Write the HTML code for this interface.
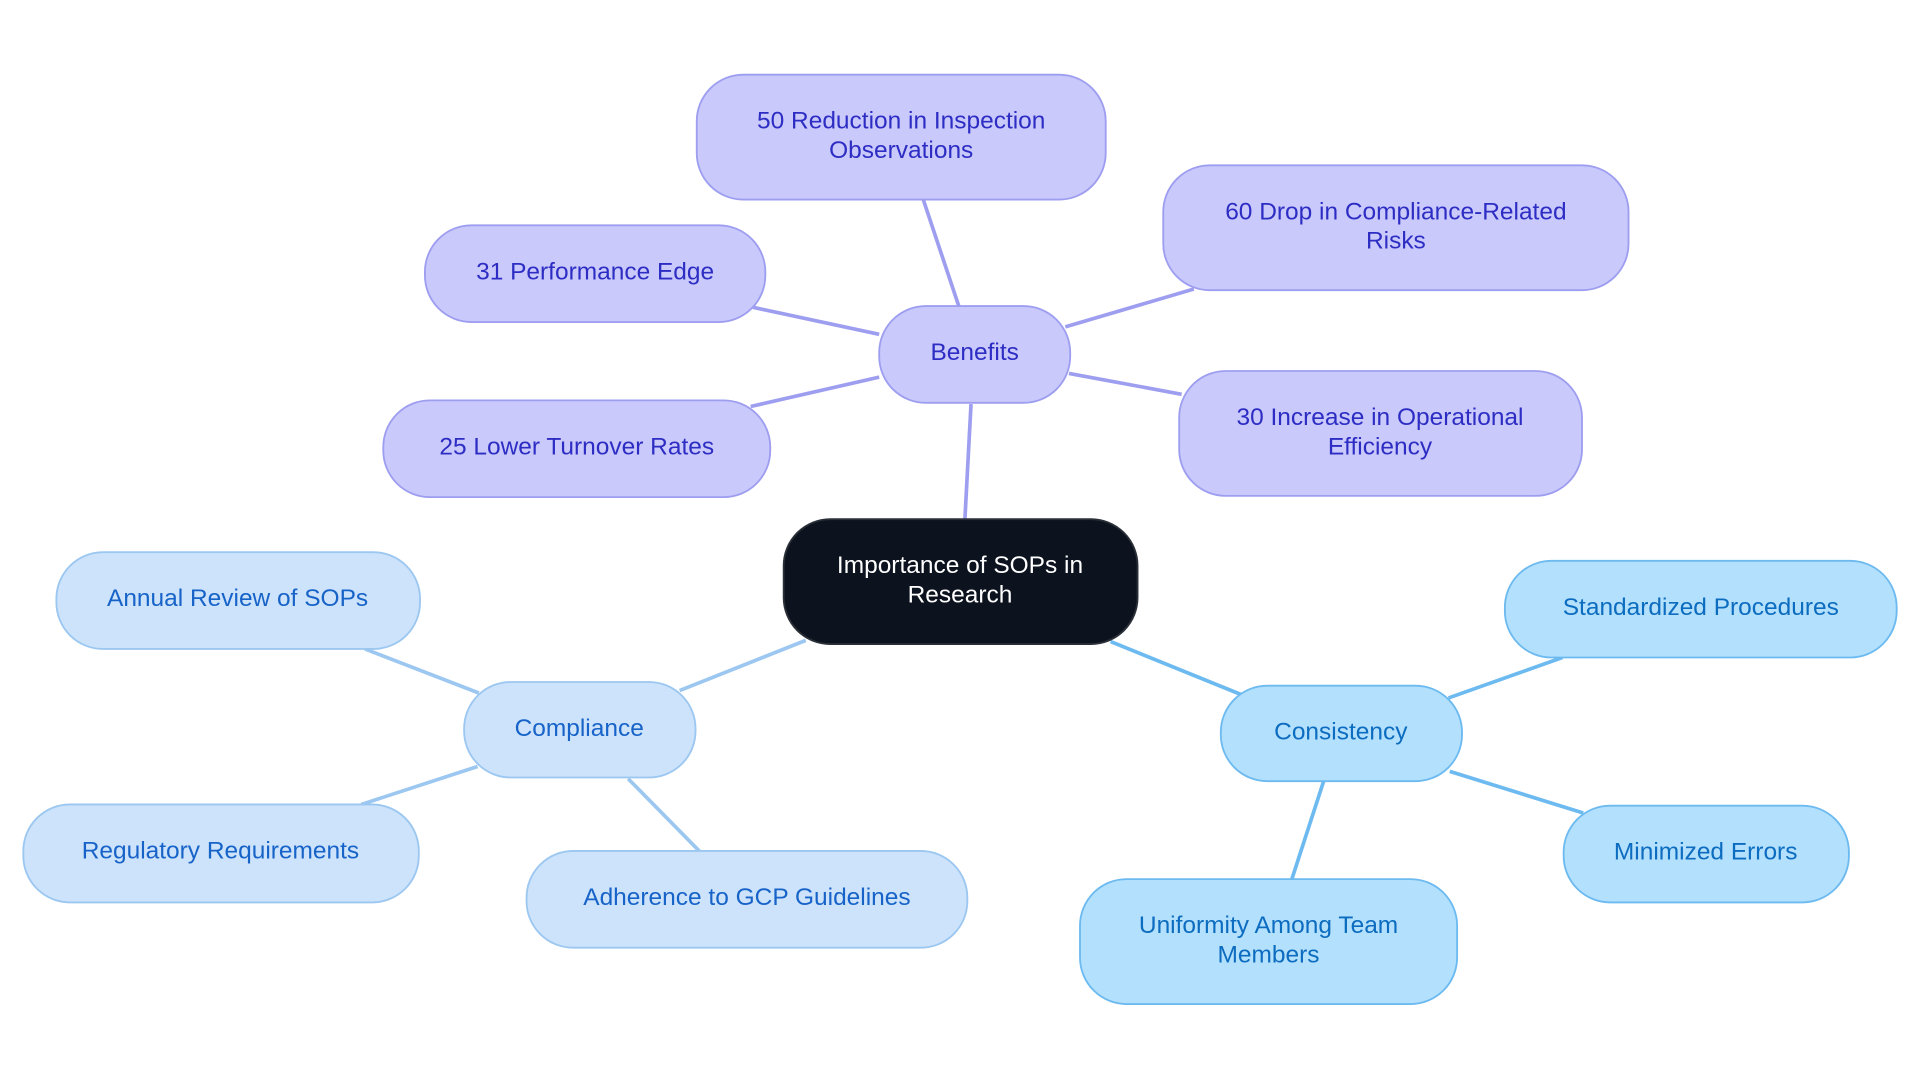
<!DOCTYPE html>
<html><head><meta charset="utf-8"><style>html,body{margin:0;padding:0;background:#fff;width:1920px;height:1083px;overflow:hidden}svg{display:block}text{font-family:"Liberation Sans",sans-serif;font-size:20px;text-anchor:middle;dominant-baseline:central}</style></head><body>
<svg width="1920" height="1083" viewBox="0 0 1568 884.5" xmlns="http://www.w3.org/2000/svg">
<g stroke-width="3" fill="none">
<g stroke="#9e9ef0">
<line x1="793" y1="330" x2="788" y2="424"/>
<line x1="783" y1="250" x2="754" y2="163"/>
<line x1="870" y1="267" x2="975" y2="236"/>
<line x1="718" y1="273" x2="615" y2="251"/>
<line x1="718" y1="308" x2="613" y2="332"/>
<line x1="873" y1="305" x2="965" y2="322"/>
</g>
<g stroke="#9cc7f0">
<line x1="658" y1="523" x2="555" y2="564"/>
<line x1="391" y1="566" x2="298" y2="530"/>
<line x1="390" y1="626" x2="295" y2="657"/>
<line x1="513" y1="636" x2="571" y2="695"/>
</g>
<g stroke="#6cbaf0">
<line x1="907" y1="524" x2="1013" y2="567"/>
<line x1="1183" y1="570" x2="1276" y2="537"/>
<line x1="1184" y1="630" x2="1293" y2="664"/>
<line x1="1081" y1="638" x2="1055" y2="718"/>
</g>
</g>
<g stroke-width="1.5">
<rect x="640" y="424" width="289" height="102" rx="38" fill="#0d131e" stroke="#2a2f38"/>
<g fill="#c9c9fc" stroke="#9e9ef0">
<rect x="718" y="250" width="156" height="79" rx="38"/>
<rect x="569" y="61" width="334" height="102" rx="38"/>
<rect x="950" y="135" width="380" height="102" rx="38"/>
<rect x="347" y="184" width="278" height="79" rx="38"/>
<rect x="313" y="327" width="316" height="79" rx="38"/>
<rect x="963" y="303" width="329" height="102" rx="38"/>
</g>
<g fill="#cce3fb" stroke="#9cc7f0">
<rect x="379" y="557" width="189" height="78" rx="38"/>
<rect x="46" y="451" width="297" height="79" rx="38"/>
<rect x="19" y="657" width="323" height="80" rx="38"/>
<rect x="430" y="695" width="360" height="79" rx="38"/>
</g>
<g fill="#b3e0fd" stroke="#6cbaf0">
<rect x="997" y="560" width="197" height="78" rx="38"/>
<rect x="1229" y="458" width="320" height="79" rx="38"/>
<rect x="1277" y="658" width="233" height="79" rx="38"/>
<rect x="882" y="718" width="308" height="102" rx="38"/>
</g>
</g>
<text x="784" y="462" fill="#fff">Importance of SOPs in</text>
<text x="784" y="486" fill="#fff">Research</text>
<g fill="#2d2dc4">
<text x="796" y="288">Benefits</text>
<text x="736" y="99">50 Reduction in Inspection</text>
<text x="736" y="123">Observations</text>
<text x="1140" y="173">60 Drop in Compliance-Related</text>
<text x="1140" y="197">Risks</text>
<text x="486" y="222">31 Performance Edge</text>
<text x="471" y="365">25 Lower Turnover Rates</text>
<text x="1127" y="341">30 Increase in Operational</text>
<text x="1127" y="365">Efficiency</text>
</g>
<g fill="#1763c8">
<text x="473" y="595">Compliance</text>
<text x="194" y="489">Annual Review of SOPs</text>
<text x="180" y="695">Regulatory Requirements</text>
<text x="610" y="733">Adherence to GCP Guidelines</text>
</g>
<g fill="#0c6cbf">
<text x="1095" y="598">Consistency</text>
<text x="1389" y="496">Standardized Procedures</text>
<text x="1393" y="696">Minimized Errors</text>
<text x="1036" y="756">Uniformity Among Team</text>
<text x="1036" y="780">Members</text>
</g>
</svg>
</body></html>
